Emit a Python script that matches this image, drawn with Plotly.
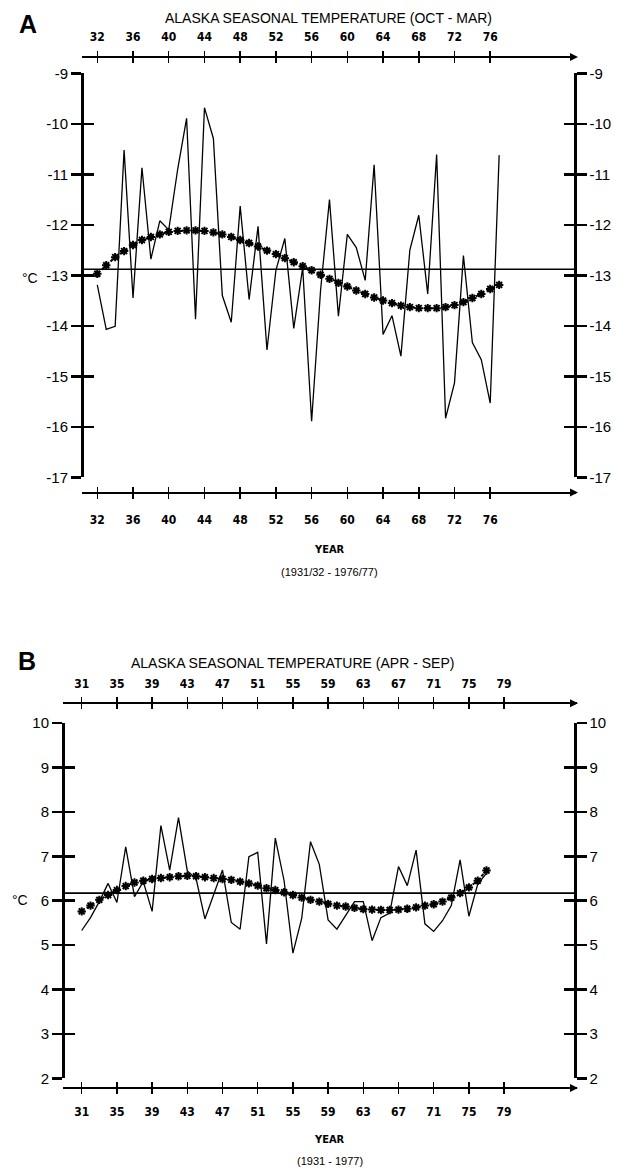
import plotly.graph_objects as go

# ---------------- DATA ----------------
# Panel A: Oct-Mar seasons, labelled by ending year (1931/32 -> 32 ... 1976/77 -> 77)
years_a = list(range(32, 78))
temp_a = [-13.19, -14.07, -14.01, -10.52, -13.45, -10.87, -12.68, -11.92, -12.10, -10.90,
          -9.89, -13.87, -9.68, -10.29, -13.40, -13.93, -11.63, -13.48, -12.03, -14.48,
          -12.90, -12.27, -14.05, -12.85, -15.89, -13.30, -11.50, -13.81, -12.19, -12.45,
          -13.10, -10.81, -14.17, -13.80, -14.60, -12.50, -11.81, -13.37, -10.61, -15.83,
          -15.13, -12.61, -14.33, -14.67, -15.53, -10.62]
smooth_a = [-12.97, -12.80, -12.64, -12.52, -12.40, -12.30, -12.24, -12.19, -12.14, -12.12,
            -12.11, -12.11, -12.12, -12.15, -12.19, -12.24, -12.30, -12.36, -12.43, -12.51,
            -12.58, -12.66, -12.74, -12.82, -12.90, -12.99, -13.07, -13.15, -13.22, -13.30,
            -13.37, -13.44, -13.50, -13.55, -13.60, -13.63, -13.65, -13.65, -13.65, -13.63,
            -13.59, -13.53, -13.45, -13.37, -13.27, -13.19]
mean_a = -12.88
xticks_a = [32, 36, 40, 44, 48, 52, 56, 60, 64, 68, 72, 76]
yticks_a = [-9, -10, -11, -12, -13, -14, -15, -16, -17]

# Panel B: Apr-Sep, 1931 - 1977
years_b = list(range(31, 78))
temp_b = [5.33, 5.62, 5.98, 6.39, 5.96, 7.21, 6.09, 6.43, 5.76, 7.69,
          6.69, 7.87, 6.67, 6.50, 5.59, 6.15, 6.69, 5.51, 5.36, 6.99,
          7.09, 5.03, 7.41, 6.45, 4.82, 5.60, 7.33, 6.82, 5.57, 5.36,
          5.66, 5.98, 5.98, 5.10, 5.62, 5.72, 6.77, 6.34, 7.14, 5.48,
          5.31, 5.55, 5.89, 6.92, 5.65, 6.37, 6.62]
smooth_b = [5.76, 5.89, 6.02, 6.13, 6.24, 6.33, 6.41, 6.45, 6.49, 6.51,
            6.53, 6.55, 6.56, 6.55, 6.53, 6.51, 6.49, 6.47, 6.43, 6.39,
            6.34, 6.28, 6.24, 6.19, 6.13, 6.07, 6.02, 5.98, 5.93, 5.89,
            5.87, 5.84, 5.81, 5.80, 5.79, 5.79, 5.80, 5.82, 5.85, 5.89,
            5.92, 5.98, 6.07, 6.17, 6.30, 6.45, 6.68]
mean_b = 6.17
xticks_b = [31, 35, 39, 43, 47, 51, 55, 59, 63, 67, 71, 75, 79]
yticks_b = [10, 9, 8, 7, 6, 5, 4, 3, 2]

title_a = "ALASKA SEASONAL TEMPERATURE (OCT - MAR)"
title_b = "ALASKA SEASONAL TEMPERATURE (APR - SEP)"
sub_a = "(1931/32 - 1976/77)"
sub_b = "(1931 - 1977)"

# ---------------- LAYOUT GEOMETRY ----------------
W, H = 617, 1174
# vertical correction measured on the photographed page: shown_y = (fig_y + 8) * 0.9866
VK, VOFF = 0.9866, 8.0


def px(x):
    return x / W


def py(y):
    """target position in the photographed picture -> paper fraction"""
    fy = y / VK - VOFF
    return 1 - fy / H


TICKFONT_X = dict(family="Liberation Sans Narrow, DejaVu Sans Condensed, Arial Narrow, sans-serif",
                  size=12, color="black", weight="bold")
TICKFONT_Y = dict(family="Liberation Sans, Arial, Helvetica, sans-serif", size=15, color="black")

fig = go.Figure()


def add_panel(idx0, years, temp, smooth, mean, xticks, yticks, xr, yr,
              xdom, ydom, top_y, bot_y, left_x, right_x, bot_standoff):
    names_x = ["x" if idx0 == 1 else f"x{idx0}"] + [f"x{idx0 + k}" for k in range(1, 4)]
    names_y = ["y" if idx0 == 1 else f"y{idx0}"] + [f"y{idx0 + k}" for k in range(1, 4)]
    lay_x = ["xaxis" + n[1:] for n in names_x]
    lay_y = ["yaxis" + n[1:] for n in names_y]
    xbase, ybase = names_x[0], names_y[0]

    ytext = [str(v) for v in yticks]  # plain hyphen minus as in the original
    common_x = dict(range=xr, domain=xdom, showgrid=False, zeroline=False, showline=True,
                    linecolor="black", linewidth=2, tickvals=xticks, tickwidth=1.5,
                    tickcolor="black", ticklen=5, anchor="free", tickfont=TICKFONT_X)
    common_y = dict(range=yr, domain=ydom, showgrid=False, zeroline=False, showline=True,
                    linecolor="black", linewidth=2.5, tickvals=yticks, ticktext=ytext,
                    tickwidth=2.5, tickcolor="black", ticklen=10, anchor="free",
                    tickfont=TICKFONT_Y)
    lay = {}
    lay[lay_x[0]] = dict(common_x, side="bottom", position=py(bot_y), ticks="outside",
                         ticklabelstandoff=bot_standoff)
    lay[lay_x[1]] = dict(common_x, side="bottom", position=py(bot_y), ticks="inside",
                         showticklabels=False, overlaying=xbase)
    lay[lay_x[2]] = dict(common_x, side="top", position=py(top_y), ticks="outside",
                         ticklabelstandoff=5, overlaying=xbase)
    lay[lay_x[3]] = dict(common_x, side="top", position=py(top_y), ticks="inside",
                         showticklabels=False, overlaying=xbase)
    lay[lay_y[0]] = dict(common_y, side="left", position=px(left_x), ticks="outside")
    lay[lay_y[1]] = dict(common_y, side="left", position=px(left_x), ticks="inside",
                         showticklabels=False, overlaying=ybase)
    lay[lay_y[2]] = dict(common_y, side="right", position=px(right_x), ticks="outside",
                         overlaying=ybase)
    lay[lay_y[3]] = dict(common_y, side="right", position=px(right_x), ticks="inside",
                         showticklabels=False, overlaying=ybase)
    fig.update_layout(**lay)

    # empty traces so that every overlaying axis gets its own subplot and is drawn
    for nx in names_x[1:]:
        fig.add_trace(go.Scatter(x=[], y=[], xaxis=nx, yaxis=ybase, showlegend=False))
    for ny in names_y[1:]:
        fig.add_trace(go.Scatter(x=[], y=[], xaxis=xbase, yaxis=ny, showlegend=False))

    fig.add_trace(go.Scatter(x=years, y=temp, mode="lines", xaxis=xbase, yaxis=ybase,
                             line=dict(color="black", width=1.3), showlegend=False,
                             hoverinfo="skip"))
    fig.add_trace(go.Scatter(x=years, y=smooth, mode="lines+markers", xaxis=xbase, yaxis=ybase,
                             line=dict(color="black", width=2, dash="dot"),
                             marker=dict(symbol="asterisk-open", size=7, color="black",
                                         line=dict(color="black", width=2)),
                             showlegend=False, hoverinfo="skip"))
    fig.add_shape(type="line", xref=f"{xbase} domain", x0=0, x1=1, yref=ybase, y0=mean, y1=mean,
                  line=dict(color="black", width=1.6))
    for yy in (top_y, bot_y):
        fig.add_annotation(x=px(right_x + 3), y=py(yy), xref="paper", yref="paper",
                           ax=-6, ay=0, text="", showarrow=True, arrowhead=2,
                           arrowsize=1, arrowwidth=1.6, arrowcolor="black")


# Panel A: 32 at 97.3 px, 8.93 px/yr ; axes 82..576 ; -9 at 72.3, -17 at 476.7
xa0 = 32 - (97.3 - 82) / 8.93
xa1 = 32 + (576 - 97.3) / 8.93
add_panel(1, years_a, temp_a, smooth_a, mean_a, xticks_a, yticks_a,
          [xa0, xa1], [-17, -9], [px(82), px(576)], [py(476.7), py(72.3)],
          56, 492, 82, 575, 11)

# Panel B: 31 at 81.7 px, 8.8 px/yr ; axes 63..577 ; 10 at 722.7, 2 at 1078.5
xb0 = 31 - (81.7 - 63) / 8.8
xb1 = 31 + (577 - 81.7) / 8.8
add_panel(5, years_b, temp_b, smooth_b, mean_b, xticks_b, yticks_b,
          [xb0, xb1], [2, 10], [px(63), px(577)], [py(1078.5), py(722.7)],
          703, 1088, 63, 575, 8)

TXT = "Liberation Sans, Arial, Helvetica, sans-serif"
BIG = "Arial Black, Liberation Sans, sans-serif"


def note(x, y, text, size, weight="normal", family=TXT, yanchor="middle", yref_top=False):
    fig.add_annotation(x=px(x), y=1 if yref_top else py(y), xref="paper", yref="paper",
                       text=text, showarrow=False, xanchor="center", yanchor=yanchor,
                       borderpad=0,
                       font=dict(family=family, size=size, color="black", weight=weight))


note(28, 0, "A", 25, "bold", BIG, yanchor="top", yref_top=True)
note(328, 0, title_a, 14, yanchor="top", yref_top=True)
note(30, 277, "°C", 14)
note(330, 549, "YEAR", 11, "bold", TICKFONT_X["family"])
note(330, 572, sub_a, 11)

note(27, 661, "B", 25, "bold", BIG)
note(292, 663, title_b, 14)
note(20, 900, "°C", 14)
note(330, 1140, "YEAR", 11, "bold", TICKFONT_X["family"])
note(330, 1161, sub_b, 11)

fig.update_layout(width=W, height=H, margin=dict(l=0, r=0, t=0, b=0),
                  paper_bgcolor="white", plot_bgcolor="rgba(0,0,0,0)", showlegend=False)

# remove the browser's default 8px body margin so the figure fills the page exactly
fig.write_html("out.html", config={"displayModeBar": False, "staticPlot": True},
               post_script="document.body.style.margin='0';"
                           "document.documentElement.style.overflow='hidden';")
